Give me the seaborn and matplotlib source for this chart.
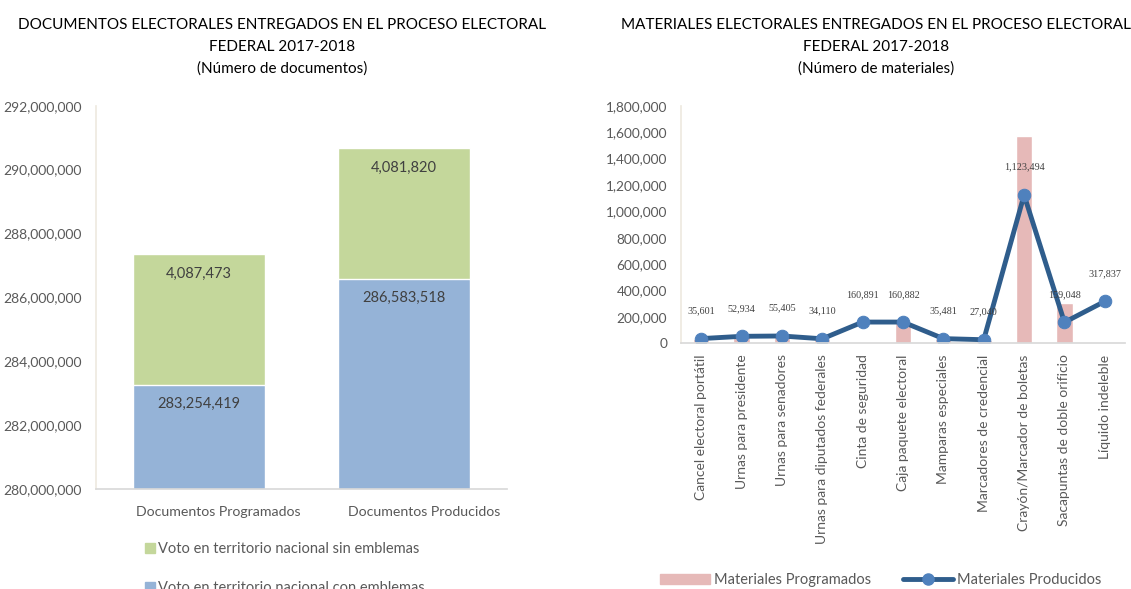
import numpy as np
import pandas as pd
import matplotlib
matplotlib.use("Agg")
import matplotlib.pyplot as plt
import matplotlib.transforms as mtransforms
from matplotlib.patches import Patch
from matplotlib.lines import Line2D
from matplotlib.ticker import FuncFormatter
import seaborn as sns

sns.set_theme(style="white")
plt.rcParams["font.family"] = ["Lato", "DejaVu Sans"]

# ---- Documentos electorales ----
doc_categories = ["Documentos Programados", "Documentos Producidos"]
con_emblemas = [283254419, 286583518]
sin_emblemas = [4087473, 4081820]

# ---- Materiales electorales ----
mat_categories = [
    "Cancel electoral portátil",
    "Urnas para presidente",
    "Urnas para senadores",
    "Urnas para diputados federales",
    "Cinta de seguridad",
    "Caja paquete electoral",
    "Mamparas especiales",
    "Marcadores de credencial",
    "Crayón/Marcador de boletas",
    "Sacapuntas de doble orificio",
    "Líquido indeleble",
]
mat_programados = [35601, 52934, 55405, 34110, np.nan, 160882, 35481, 27040,
                   1570000, 305000, np.nan]
mat_producidos = [35601, 52934, 55405, 34110, 160891, 160882, 35481, 27040,
                  1123494, 159048, 317837]

BLUE = "#95B3D7"
GREEN = "#C4D79B"
PINK = "#E6B9B8"
LINE = "#2F5D8C"
MARK = "#4F81BD"
TICK = "#595959"

W, H = 1131, 589
fig = plt.figure(figsize=(W / 100, H / 100), dpi=100)


def px_axes(x0, y0, x1, y1):
    return fig.add_axes([x0 / W, 1 - y1 / H, (x1 - x0) / W, (y1 - y0) / H])


comma = FuncFormatter(lambda v, p: f"{v:,.0f}")

# ---------- left: stacked bars ----------
ax1 = px_axes(96, 105.7, 507, 489)
docs = pd.DataFrame({
    "cat": doc_categories,
    "con": con_emblemas,
    "total": np.array(con_emblemas) + np.array(sin_emblemas),
})
sns.barplot(data=docs, x="cat", y="total", color=GREEN, width=0.643,
            saturation=1, ax=ax1)
sns.barplot(data=docs, x="cat", y="con", color=BLUE, width=0.643,
            saturation=1, ax=ax1)
ax1.set_ylim(280000000, 292000000)
ax1.set_yticks(np.arange(280000000, 292000001, 2000000))
ax1.yaxis.set_major_formatter(comma)
ax1.set_xlabel("")
ax1.set_ylabel("")
ax1.tick_params(axis="both", length=0, colors=TICK, labelsize=10)
ax1.tick_params(axis="x", pad=12, labelsize=10.2)
ax1.tick_params(axis="y", pad=10)
shift = mtransforms.ScaledTranslation(20 / 100, 0, fig.dpi_scale_trans)
for lab in ax1.get_xticklabels():
    lab.set_transform(lab.get_transform() + shift)
for s in ["top", "right"]:
    ax1.spines[s].set_visible(False)
ax1.spines["left"].set_color("#EEEAE0")
ax1.spines["bottom"].set_color("#D9D9D9")
for i in range(len(doc_categories)):
    base = con_emblemas[i]
    top = base + sin_emblemas[i]
    ax1.text(i, base - 600000, f"{con_emblemas[i]:,}", ha="center",
             va="center", fontsize=10.5, color="#404040")
    ax1.text(i, top - 600000, f"{sin_emblemas[i]:,}", ha="center",
             va="center", fontsize=10.5, color="#404040")

fig.legend(handles=[Patch(color=GREEN, label="Voto en territorio nacional sin emblemas"),
                    Patch(color=BLUE, label="Voto en territorio nacional con emblemas")],
           loc="upper left", bbox_to_anchor=(145 / W, 1 - 542 / H),
           frameon=False, fontsize=10.5, labelcolor=TICK, handlelength=0.7,
           handleheight=0.7, handletextpad=0.2, labelspacing=1.7,
           borderaxespad=0, borderpad=0)

# ---------- right: bars + line ----------
ax2 = px_axes(681, 105.7, 1125, 343.3)
mats = pd.DataFrame({"cat": mat_categories, "prog": mat_programados,
                     "prod": mat_producidos})
sns.barplot(data=mats, x="cat", y="prog", color=PINK, width=0.4,
            saturation=1, ax=ax2)
sns.lineplot(x=np.arange(len(mat_categories)), y=mats["prod"], color=LINE,
             linewidth=3.5, marker="o", markersize=9, markerfacecolor=MARK,
             markeredgecolor=MARK, ax=ax2)
ax2.set_xlim(-0.5, len(mat_categories) - 0.5)
ax2.set_ylim(0, 1800000)
ax2.set_yticks(np.arange(0, 1800001, 200000))
ax2.yaxis.set_major_formatter(comma)
ax2.set_xlabel("")
ax2.set_ylabel("")
ax2.set_xticks(np.arange(len(mat_categories)))
ax2.set_xticklabels(mat_categories, rotation=90, va="top", ha="center")
ax2.tick_params(axis="y", length=0, colors=TICK, labelsize=9.8)
ax2.tick_params(axis="x", length=0, colors=TICK, labelsize=10, pad=8)
ax2.tick_params(axis="y", pad=10)
for s in ["top", "right"]:
    ax2.spines[s].set_visible(False)
ax2.spines["left"].set_color("#EEEAE0")
ax2.spines["bottom"].set_color("#D9D9D9")
for i, v in enumerate(mat_producidos):
    ax2.annotate(f"{v:,}", (i, v), xytext=(0, 20), textcoords="offset points",
                 ha="center", va="center", fontsize=7.3,
                 family=["Liberation Serif"], color="#404040")

fig.legend(handles=[Patch(color=PINK, label="Materiales Programados"),
                    Line2D([0], [0], color=LINE, linewidth=3.5, marker="o",
                           markersize=8, markerfacecolor=MARK,
                           markeredgecolor=MARK,
                           label="Materiales Producidos")],
           loc="center left", bbox_to_anchor=(660 / W, 1 - 580 / H),
           ncol=2, frameon=False, fontsize=10.5, labelcolor=TICK,
           handlelength=3.4, handleheight=0.65, handletextpad=0.3,
           columnspacing=2.2, borderaxespad=0, borderpad=0)

# ---------- titles ----------
fig.text(282.5 / W, 1 - 47 / H,
         "DOCUMENTOS ELECTORALES ENTREGADOS EN EL PROCESO ELECTORAL\n"
         "FEDERAL 2017-2018\n(Número de documentos)",
         ha="center", va="center", fontsize=11, color="black", linespacing=1.7)
fig.text(876 / W, 1 - 47 / H,
         "MATERIALES ELECTORALES ENTREGADOS EN EL PROCESO ELECTORAL\n"
         "FEDERAL 2017-2018\n(Número de materiales)",
         ha="center", va="center", fontsize=11, color="black", linespacing=1.7)

fig.savefig("out.png", dpi=100)
